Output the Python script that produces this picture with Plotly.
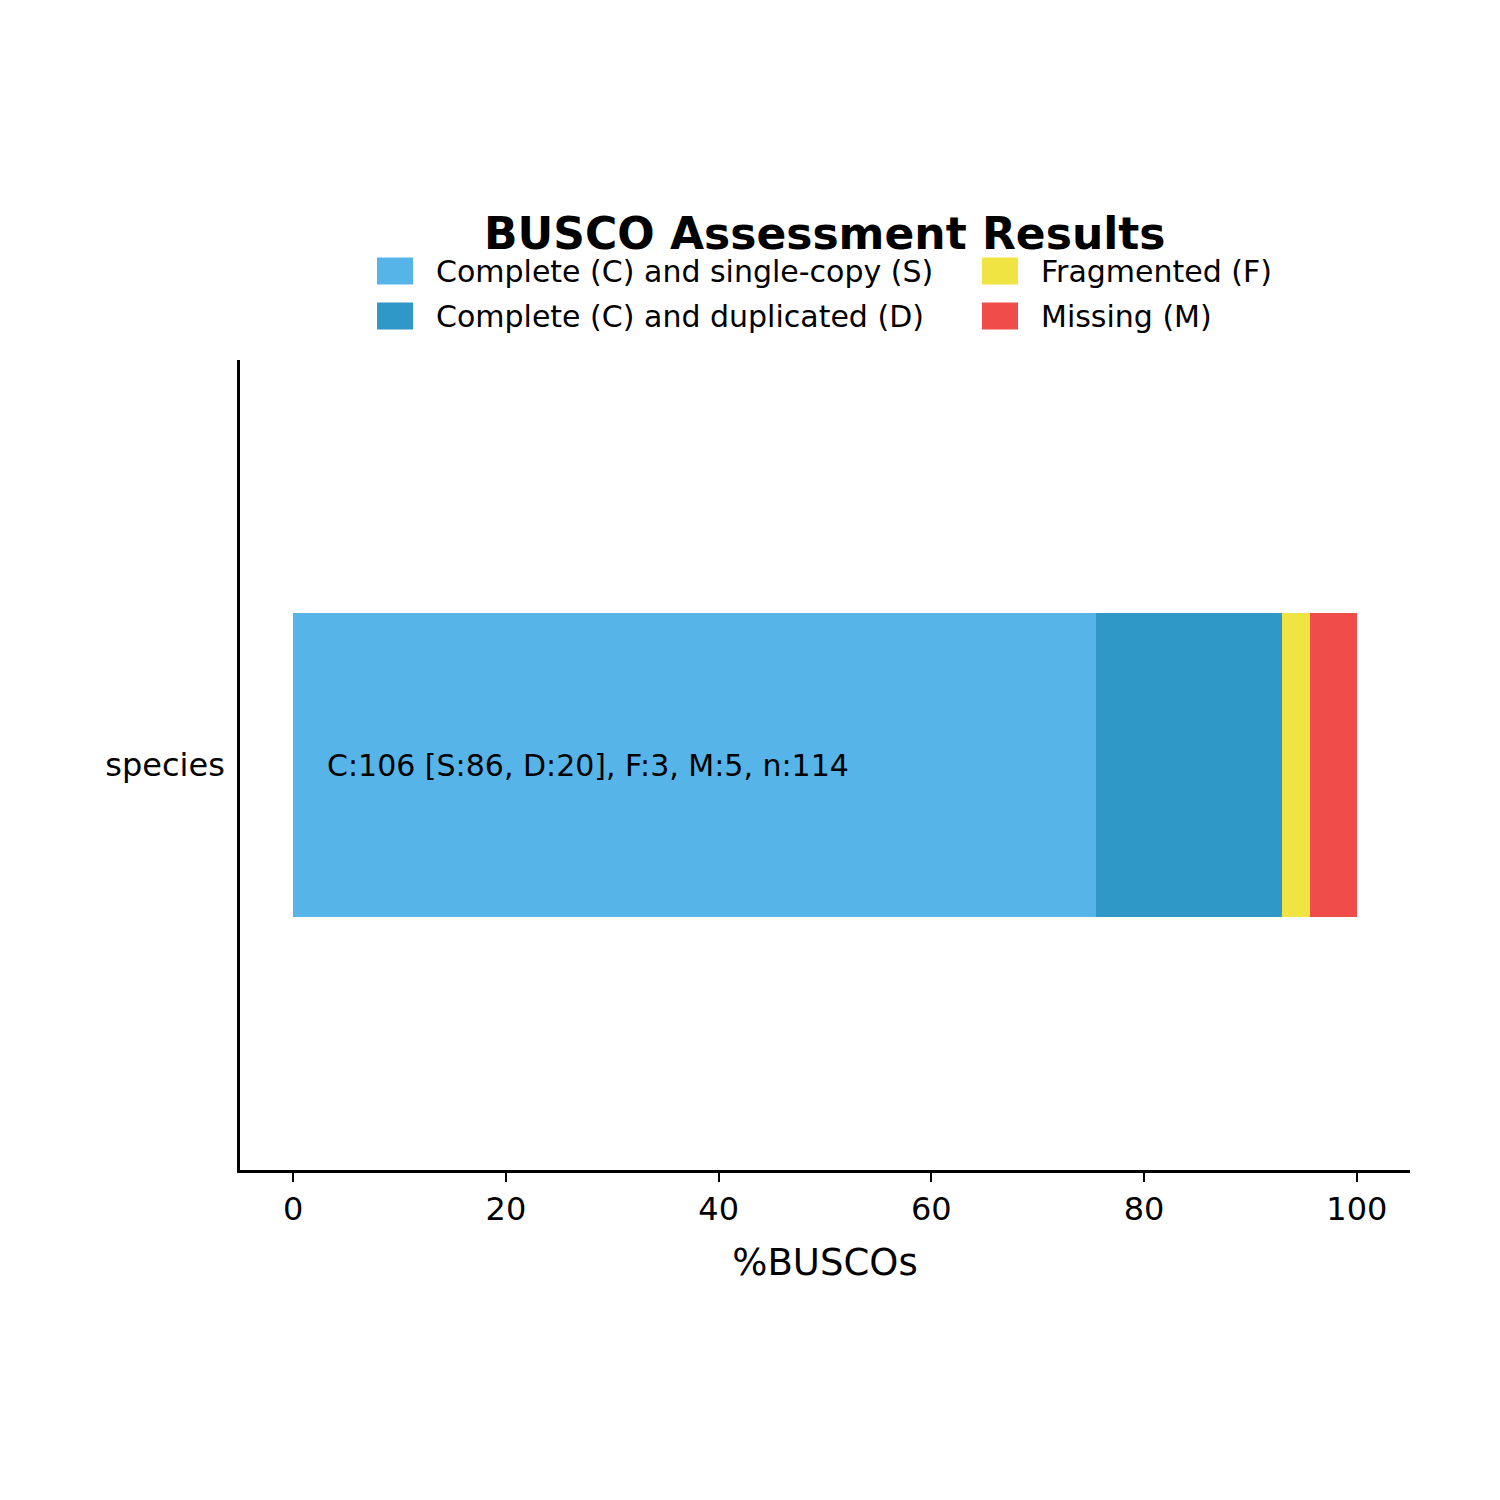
import plotly.graph_objects as go

categories = ["species"]
series_names = ["Complete (C) and single-copy (S)", "Complete (C) and duplicated (D)",
                "Fragmented (F)", "Missing (M)"]
counts_S = [86]
counts_D = [20]
counts_F = [3]
counts_M = [5]
total_n = [114]
colors = ["#56B4E9", "#2F98C6", "#F0E442", "#F04C4A"]
x_ticks = [0, 20, 40, 60, 80, 100]

FONT = "DejaVu Sans"

pct = lambda c: [v / n * 100 for v, n in zip(c, total_n)]
series = [pct(counts_S), pct(counts_D), pct(counts_F), pct(counts_M)]

fig = go.Figure()
for name, vals, col in zip(series_names, series, colors):
    fig.add_trace(go.Bar(y=categories, x=vals, orientation="h", name=name,
                         marker=dict(color=col, line=dict(width=0)), width=1,
                         showlegend=False))

summary = "C:%d [S:%d, D:%d], F:%d, M:%d, n:%d" % (
    counts_S[0] + counts_D[0], counts_S[0], counts_D[0], counts_F[0], counts_M[0], total_n[0])

annotations = [
    dict(x=3, y=categories[0], xref="x", yref="y", text=summary, showarrow=False,
         xanchor="left", yanchor="middle", font=dict(family=FONT, size=30, color="black")),
    dict(x=0.5, y=1 + (360 - 233) / 810, xref="paper", yref="paper",
         text="<b>BUSCO Assessment Results</b>", showarrow=False,
         xanchor="center", yanchor="middle", font=dict(family=FONT, size=44, color="black")),
]

shapes = []
# legend (2 columns: S,D | F,M)
leg_pos = [(377, 271), (377, 316), (982, 271), (982, 316)]
for (px, py), name, col in zip(leg_pos, series_names, colors):
    x0 = (px - 240) / 1170
    x1 = (px + 36 - 240) / 1170
    y0 = 1 + (360 - (py + 13.5)) / 810
    y1 = 1 + (360 - (py - 13.5)) / 810
    shapes.append(dict(type="rect", xref="paper", yref="paper", x0=x0, x1=x1, y0=y0, y1=y1,
                       fillcolor=col, line=dict(width=0)))
    annotations.append(dict(x=(px + 57 - 240) / 1170, y=1 + (360 - py) / 810,
                            xref="paper", yref="paper", text=name, showarrow=False,
                            xanchor="left", yanchor="middle",
                            font=dict(family=FONT, size=30, color="black")))

fig.update_layout(
    width=1500, height=1500,
    margin=dict(l=240, r=90, t=360, b=330, autoexpand=False),
    paper_bgcolor="white", plot_bgcolor="white",
    barmode="stack", bargap=0,
    font=dict(family=FONT, size=30, color="black"),
    annotations=annotations, shapes=shapes,
    showlegend=False,
)
fig.update_xaxes(range=[-5, 105], tickvals=x_ticks, ticktext=[str(t) for t in x_ticks],
                 showgrid=False, zeroline=False, showline=True, linecolor="black", linewidth=2.5,
                 ticks="outside", ticklen=9, tickwidth=2, tickcolor="black",
                 tickfont=dict(family=FONT, size=32),
                 title=dict(text="%BUSCOs", font=dict(family=FONT, size=37), standoff=22))
fig.update_yaxes(type="category", range=[-1.328, 1.328], showgrid=False, zeroline=False,
                 showline=True, linecolor="black", linewidth=2.5,
                 ticks="outside", ticklen=6, tickcolor="rgba(0,0,0,0)",
                 tickfont=dict(family=FONT, size=32))

fig.write_html("out.html")
